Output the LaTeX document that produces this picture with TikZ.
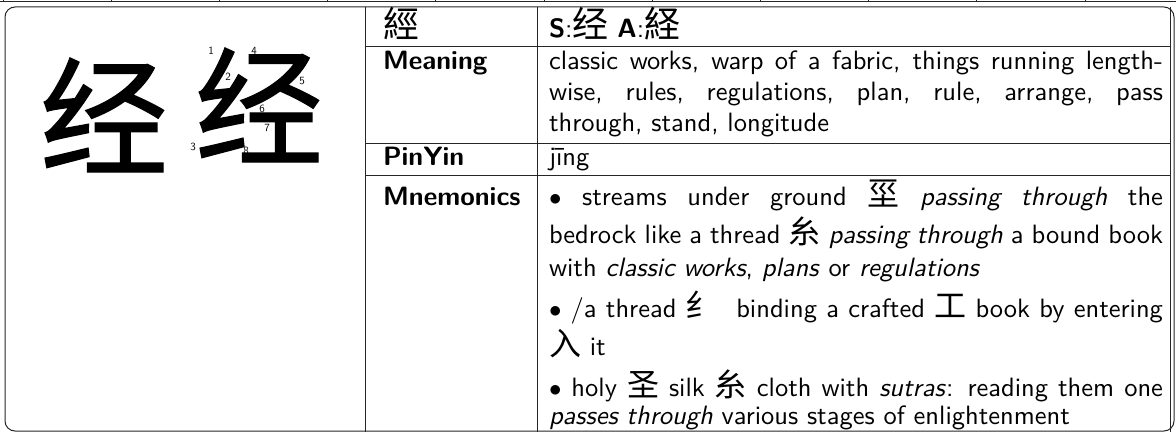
\documentclass[tikz,border=0pt]{standalone}
\usepackage{fontspec}
\setsansfont{lmsans10-regular.otf}[BoldFont=lmsans10-bold.otf, ItalicFont=lmsans10-oblique.otf, BoldItalicFont=lmsans10-boldoblique.otf]
\newfontfamily\cjk{Noto Sans CJK SC}
\newfontfamily\cjkbig{Noto Sans CJK SC}[FakeBold=1]
\newcommand\zh[2][32]{{\cjk\fontsize{#1}{#1}\selectfont #2}}
\newcommand\JL[1]{\makebox[614pt][s]{#1}}
\tikzset{
  txt/.style={anchor=base west, inner sep=0pt, outer sep=0pt, font=\sffamily\fontsize{26.5}{31.5}\selectfont},
  hd/.style={txt, font=\sffamily\bfseries\fontsize{26.5}{31.5}\selectfont},
  num/.style={inner sep=0pt, font=\sffamily\fontsize{11}{11}\selectfont},
  big/.style={inner sep=0pt, font=\cjkbig\fontsize{128}{128}\selectfont},
  rulel/.style={line width=1pt, draw=black!85},
}
\begin{document}
\begin{tikzpicture}[x=1pt,y=1pt]
\useasboundingbox (0,0) rectangle (1176,432);
% strip of a previous table
\draw[rulel] (0,430) -- (1176,430);
\foreach \k in {0,...,10} { \draw[rulel] ({3+108.2*\k},430) -- ({3+108.2*\k},433); }
% card
\draw[rulel, rounded corners=10pt] (5,1) rectangle (1174,425);
% table rules
\draw[rulel] (365,425) -- (365,0);
\draw[rulel] (537,425) -- (537,0);
\draw[rulel] (1170,425) -- (1170,0);
\draw[rulel] (365,385) -- (1170,385);
\draw[rulel] (365,288) -- (1170,288);
\draw[rulel] (365,257) -- (1170,257);
% big characters
\node[big] (c1) at (104,317) {经};
\node[big] (c2) at (259,327) {经};
\node[num] (n1) at (211,381) {1};
\node[num] (n2) at (228,355) {2};
\node[num] (n3) at (193,285) {3};
\node[num] (n4) at (254,381) {4};
\node[num] (n5) at (302,351) {5};
\node[num] (n6) at (262,323) {6};
\node[num] (n7) at (267,304) {7};
\node[num] (n8) at (246,281) {8};
% header row
\node[txt] (h1) at (383,394) {\zh[36]{經}};
\node[txt] (h2) at (549,394) {\textbf{S}:\zh[36]{经} \textbf{A}:\zh[36]{経}};
% meaning
\node[hd] (m0) at (383,362) {Meaning};
\node[txt] (m1) at (549,362) {\JL{classic works, warp of a fabric, things running length-}};
\node[txt] (m2) at (549,331) {\JL{wise, rules, regulations, plan, rule, arrange, pass}};
\node[txt] (m3) at (549,300) {through, stand, longitude};
% pinyin
\node[hd] (p0) at (383,266) {PinYin};
\node[txt] (p1) at (549,266) {jīng};
% mnemonics
\node[hd] (k0) at (383,227) {Mnemonics};
\node[txt] (k1) at (549,227) {\JL{$\bullet$ streams under ground \zh{坙} \textit{passing through} the}};
\node[txt] (k2) at (549,189) {\JL{bedrock like a thread \zh{糸} \textit{passing through} a bound book}};
\node[txt] (k3) at (549,156) {with \textit{classic works}, \textit{plans} or \textit{regulations}};
\node[txt] (k4) at (549,115) {\JL{$\bullet$ /a thread \zh{纟}\ \ binding a crafted \zh{工} book by entering}};
\node[txt] (k5) at (549,77) {\zh{入} it};
\node[txt] (k6) at (549,36) {\JL{$\bullet$ holy \zh{圣} silk \zh{糸} cloth with \textit{sutras}: reading them one}};
\node[txt] (k7) at (549,8) {\textit{passes through} various stages of enlightenment};
\end{tikzpicture}
\end{document}
